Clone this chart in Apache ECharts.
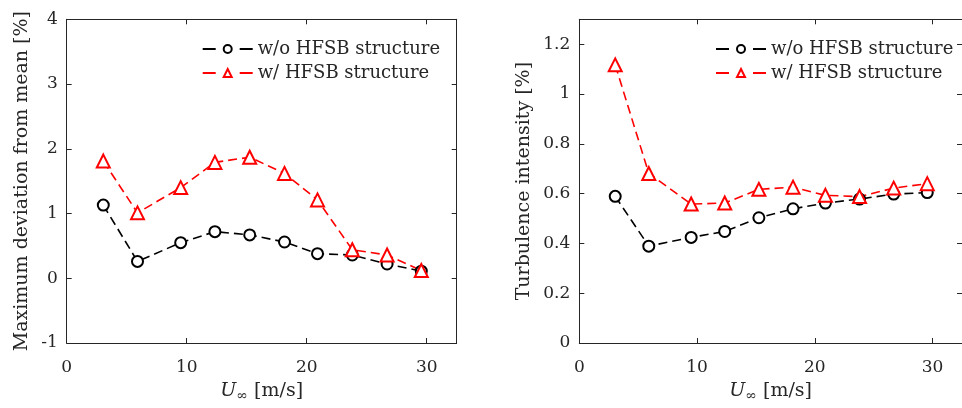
<!DOCTYPE html>
<html>
<head>
<meta charset="utf-8">
<script src="https://cdn.jsdelivr.net/npm/echarts@6/dist/echarts.min.js"></script>
<style>
  html, body { margin: 0; padding: 0; background: #fff; }
  #chart { width: 962px; height: 408px; }
</style>
</head>
<body>
<div id="chart"></div>
<script>
// Free-stream velocities [m/s]
const speeds = [3.05, 5.9, 9.5, 12.35, 15.25, 18.15, 20.9, 23.8, 26.7, 29.55];

// Maximum deviation from mean [%]
const devWithout = [1.13, 0.26, 0.55, 0.72, 0.67, 0.56, 0.38, 0.36, 0.22, 0.11];
const devWith    = [1.81, 1.01, 1.40, 1.79, 1.87, 1.62, 1.21, 0.44, 0.36, 0.12];

// Turbulence intensity [%]
const tiWithout = [0.589, 0.389, 0.424, 0.448, 0.503, 0.539, 0.562, 0.578, 0.598, 0.604];
const tiWith    = [1.117, 0.681, 0.558, 0.562, 0.617, 0.626, 0.593, 0.588, 0.622, 0.640];

const seriesNames = ['w/o HFSB structure', 'w/ HFSB structure'];
const leftYLabel = 'Maximum deviation from mean [%]';
const rightYLabel = 'Turbulence intensity [%]';

const FONT = 'DejaVu Serif';
const AX = '#262626';

function pairs(xs, ys) { return xs.map((x, i) => [x, ys[i]]); }

function xAxisPair(gi) {
  const base = {
    type: 'value', gridIndex: gi, min: 0, max: 32.5, interval: 10,
    splitLine: { show: false },
    axisLine: { show: true, onZero: false, lineStyle: { color: AX, width: 1 } },
    axisTick: { show: true, inside: true, length: 5, lineStyle: { color: AX } }
  };
  return [
    Object.assign({}, base, {
      position: 'bottom',
      axisLabel: { color: AX, fontFamily: FONT, fontSize: 17, margin: 16, showMaxLabel: false },
      name: '{u|U}{s|∞} [m/s]',
      nameLocation: 'middle', nameGap: 36,
      nameTextStyle: {
        color: AX, fontFamily: FONT, fontSize: 19,
        rich: {
          u: { fontFamily: FONT, fontStyle: 'italic', fontSize: 19, color: AX },
          s: { fontFamily: FONT, fontSize: 14, color: AX, padding: [10, 0, 0, 0] }
        }
      }
    }),
    Object.assign({}, base, { position: 'top', axisLabel: { show: false } })
  ];
}

function yAxisPair(gi, min, max, interval, label, gap, showMax) {
  const base = {
    type: 'value', gridIndex: gi, min: min, max: max, interval: interval,
    splitLine: { show: false },
    axisLine: { show: true, onZero: false, lineStyle: { color: AX, width: 1 } },
    axisTick: { show: true, inside: true, length: 5, lineStyle: { color: AX } }
  };
  return [
    Object.assign({}, base, {
      position: 'left',
      axisLabel: { color: AX, fontFamily: FONT, fontSize: 17, margin: 9, showMaxLabel: showMax },
      name: label, nameLocation: 'middle', nameGap: gap,
      nameTextStyle: { color: AX, fontFamily: FONT, fontSize: 19 }
    }),
    Object.assign({}, base, { position: 'right', axisLabel: { show: false } })
  ];
}

function lineSeries(name, gi, data, color, symbol, size) {
  return {
    name: name, type: 'line', xAxisIndex: gi * 2, yAxisIndex: gi * 2,
    data: data, symbol: symbol, symbolSize: size,
    lineStyle: { color: color, width: 1.6, type: [9, 5] },
    itemStyle: { color: color, borderColor: color, borderWidth: 1.6 },
    emphasis: { disabled: true },
    animation: false
  };
}

function legendAt(left) {
  return {
    data: seriesNames, orient: 'vertical', left: left, top: 40, padding: 0,
    itemWidth: 50, itemHeight: 10, itemGap: 6,
    lineStyle: { type: [13, 24], width: 2 },
    textStyle: { color: AX, fontFamily: FONT, fontSize: 18, lineHeight: 14 },
    selectedMode: false
  };
}

const chart = echarts.init(document.getElementById('chart'), null, { renderer: 'canvas' });
chart.setOption({
  backgroundColor: '#fff',
  animation: false,
  grid: [
    { left: 66.7, top: 19.3, width: 390, height: 325 },
    { left: 579.3, top: 19.3, width: 390, height: 325 }
  ],
  xAxis: [].concat(xAxisPair(0), xAxisPair(1)),
  yAxis: [].concat(
    yAxisPair(0, -1, 4, 1, leftYLabel, 35, true),
    yAxisPair(1, 0, 1.3, 0.2, rightYLabel, 46, false)
  ),
  legend: [legendAt(201.7), legendAt(715)],
  series: [
    lineSeries(seriesNames[0], 0, pairs(speeds, devWithout), '#000000', 'emptyCircle', 11),
    lineSeries(seriesNames[1], 0, pairs(speeds, devWith), '#ff0000', 'emptyTriangle', 13),
    lineSeries(seriesNames[0], 1, pairs(speeds, tiWithout), '#000000', 'emptyCircle', 11),
    lineSeries(seriesNames[1], 1, pairs(speeds, tiWith), '#ff0000', 'emptyTriangle', 13)
  ]
});
</script>
</body>
</html>
